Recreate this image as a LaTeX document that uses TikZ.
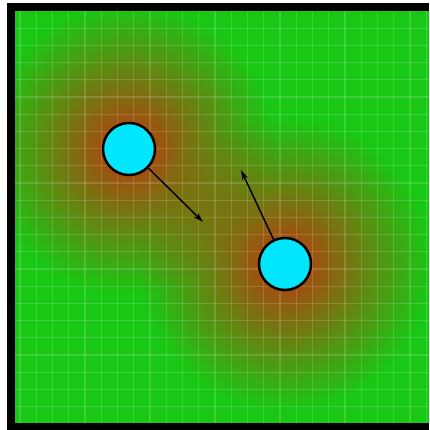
\documentclass[tikz,border=0pt]{standalone}
\usetikzlibrary{fadings,arrows.meta}

\definecolor{verde}{RGB}{25,200,20}
\definecolor{rojizo}{RGB}{190,55,15}
\definecolor{celeste}{RGB}{0,230,250}
\tikzfading[name=halo, inner color=transparent!0, outer color=transparent!100]

\begin{document}
\begin{tikzpicture}[x=1pt,y=-1pt,
  particula/.style={circle,draw=black,line width=2.5pt,fill=celeste,minimum size=52pt,inner sep=0pt},
  flecha/.style={-{Stealth[length=10pt,width=6pt]},line width=1.5pt},
  rejilla/.style={white,opacity=0.15,line width=1.2pt}]
  \useasboundingbox (0,0) rectangle (429,430);

  % Marco
  \fill[black] (7,3) rectangle (429,430);
  \fill[verde] (15,11) rectangle (429,423);

  % Halos alrededor de las particulas
  \begin{scope}
    \clip (15,11) rectangle (429,423);
    \fill[rojizo, path fading=halo] (129,149) circle (145);
    \fill[rojizo, path fading=halo] (285,264) circle (145);

    % Rejilla
    \foreach \i in {0,...,25}
      \draw[rejilla] ({20+16.25*\i},11) -- ({20+16.25*\i},423);
    \foreach \j in {1,...,23}
      \draw[rejilla] (15,{11+17.2*\j}) -- (429,{11+17.2*\j});
  \end{scope}

  % Particulas y fuerzas
  \node[particula] (p1) at (129,149) {};
  \node[particula] (p2) at (285,264) {};
  \coordinate (f1) at (203,222);
  \coordinate (f2) at (241,170);
  \draw[flecha] (p1) -- (f1);
  \draw[flecha] (p2) -- (f2);
\end{tikzpicture}
\end{document}
